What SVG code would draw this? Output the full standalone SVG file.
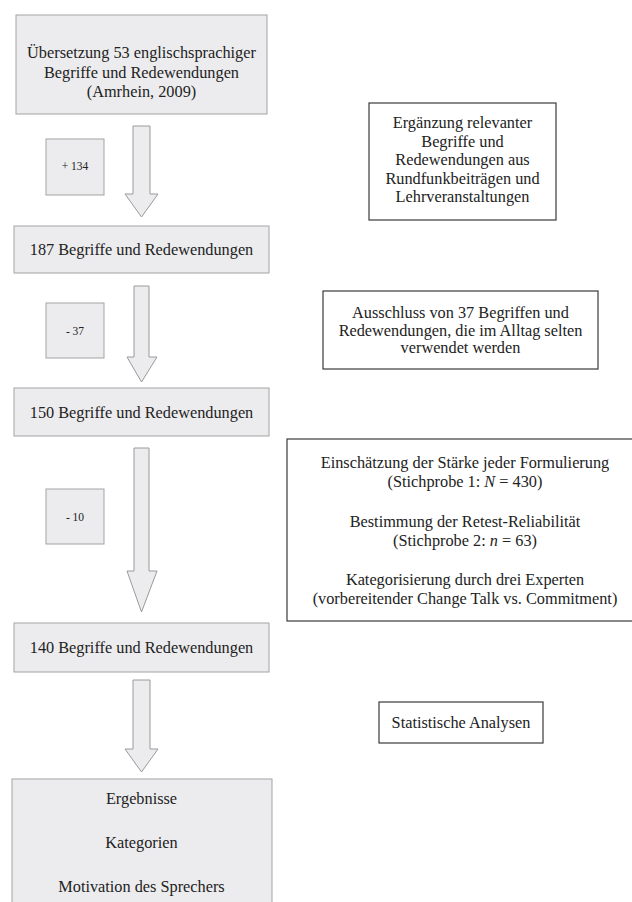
<svg xmlns="http://www.w3.org/2000/svg" width="632" height="902" viewBox="0 0 632 902">
<style>
.g{fill:#ececee;stroke:#a3a3a3;stroke-width:1}
.w{fill:#ffffff;stroke:#3a3a3a;stroke-width:1.2}
.a{fill:#ececee;stroke:#9a9a9a;stroke-width:1}
text{font-family:'Liberation Serif','DejaVu Serif',serif;fill:#222;text-anchor:middle}
.t{font-size:16.3px}
.s{font-size:11.5px}
</style>
<rect width="632" height="902" fill="#ffffff"/>
<g id="connectors">
<polygon class="a" points="133,126 150,126 150,194 158,194 141.5,217 125,194 133,194"/>
<polygon class="a" points="134,286 149,286 149,357 157,357 141.5,382 127,357 134,357"/>
<polygon class="a" points="134,448 149,448 149,571 157,571 141.5,612 127,571 134,571"/>
<polygon class="a" points="133,680 150,680 150,749 158,749 141.5,772 125,749 133,749"/>
</g>
<g font-family="Liberation Serif, serif">
<g id="n1">
<rect class="g" x="16" y="15" width="251" height="99"/>
<text class="t" x="141.5" y="58">Übersetzung 53 englischsprachiger</text>
<text class="t" x="141.5" y="77.5">Begriffe und Redewendungen</text>
<text class="t" x="141.5" y="97">(Amrhein, 2009)</text>
</g>
<g id="d1">
<rect class="g" x="46" y="139" width="58" height="56"/>
<text class="s" x="75" y="170">+ 134</text>
</g>
<g id="n2">
<rect class="g" x="14" y="226" width="255" height="47"/>
<text class="t" x="141.5" y="255">187 Begriffe und Redewendungen</text>
</g>
<g id="d2">
<rect class="g" x="46" y="303" width="58" height="55"/>
<text class="s" x="75" y="335">- 37</text>
</g>
<g id="n3">
<rect class="g" x="14" y="388" width="255" height="48"/>
<text class="t" x="141.5" y="418">150 Begriffe und Redewendungen</text>
</g>
<g id="d3">
<rect class="g" x="46" y="489" width="58" height="55"/>
<text class="s" x="75" y="521">- 10</text>
</g>
<g id="n4">
<rect class="g" x="14" y="623" width="255" height="49"/>
<text class="t" x="141.5" y="653">140 Begriffe und Redewendungen</text>
</g>
<g id="n5">
<rect class="g" x="12" y="779" width="260" height="130"/>
<text class="t" x="141.5" y="804">Ergebnisse</text>
<text class="t" x="141.5" y="848">Kategorien</text>
<text class="t" x="141.5" y="892">Motivation des Sprechers</text>
</g>
<g id="r1">
<rect class="w" x="369" y="103" width="187" height="117"/>
<text class="t" x="462.5" y="128">Ergänzung relevanter</text>
<text class="t" x="462.5" y="146.5">Begriffe und</text>
<text class="t" x="462.5" y="165">Redewendungen aus</text>
<text class="t" x="462.5" y="183.5">Rundfunkbeiträgen und</text>
<text class="t" x="462.5" y="202">Lehrveranstaltungen</text>
</g>
<g id="r2">
<rect class="w" x="323" y="291" width="275" height="78"/>
<text class="t" x="460.5" y="318">Ausschluss von 37 Begriffen und</text>
<text class="t" x="460.5" y="335.5">Redewendungen, die im Alltag selten</text>
<text class="t" x="460.5" y="353">verwendet werden</text>
</g>
<g id="r3">
<rect class="w" x="287" y="439" width="360" height="182"/>
<text class="t" x="465" y="468">Einschätzung der Stärke jeder Formulierung</text>
<text class="t" x="465" y="487">(Stichprobe 1: <tspan font-style="italic">N</tspan> = 430)</text>
<text class="t" x="465" y="527">Bestimmung der Retest-Reliabilität</text>
<text class="t" x="465" y="545.5">(Stichprobe 2: <tspan font-style="italic">n</tspan> = 63)</text>
<text class="t" x="465" y="585">Kategorisierung durch drei Experten</text>
<text class="t" x="465" y="604">(vorbereitender Change Talk vs. Commitment)</text>
</g>
<g id="r4">
<rect class="w" x="379" y="702" width="164" height="41"/>
<text class="t" x="461" y="728">Statistische Analysen</text>
</g>
</g>
</svg>
